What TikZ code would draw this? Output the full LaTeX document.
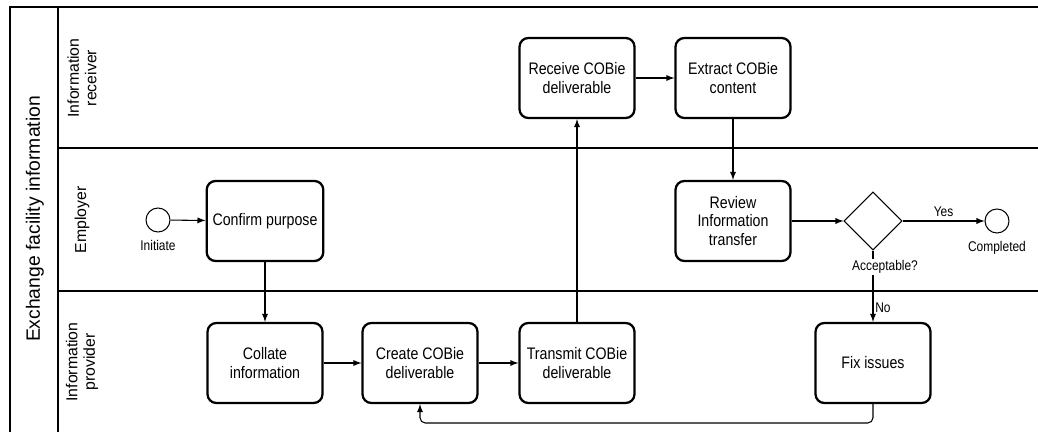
\documentclass[tikz,border=0pt]{standalone}
\usepackage{fontspec}
\setmainfont{Liberation Sans}
\newfontfamily\narrowfont[FakeStretch=0.85]{Liberation Sans}
\usetikzlibrary{arrows}
\usetikzlibrary{calc}
\usetikzlibrary{shapes.geometric}

\begin{document}
\begin{tikzpicture}[x=0.02cm,y=-0.02cm,
    task/.style={draw,line width=1.3pt,rounded corners=5pt,minimum width=2.3cm,
      minimum height=1.6cm,align=center,font=\narrowfont\fontsize{9.5}{10.5}\selectfont},
    event/.style={draw,circle,line width=0.6pt,minimum size=0.48cm,inner sep=0pt},
    gate/.style={draw,diamond,line width=0.6pt,minimum size=1.16cm,inner sep=0pt},
    lbl/.style={font=\narrowfont\fontsize{8}{9}\selectfont,inner sep=1pt},
    lane/.style={line width=1.6pt},
    flow/.style={->,>=latex,line width=0.6pt}]
      \useasboundingbox (0,0) rectangle (1038,432);

      % pool and lanes
      \draw[lane] (10,432) -- (10,7) -- (1038,7);
      \draw[lane] (58,7) -- (58,432);
      \draw[lane] (58,148) -- (1038,148);
      \draw[lane] (58,291) -- (1038,291);
      \node[rotate=90,font=\fontsize{11}{13}\selectfont] (pool) at (35,219) {Exchange facility information};
      \node[rotate=90,align=center,font=\fontsize{9}{10}\selectfont] (receiver) at (82,78) {Information\\receiver};
      \node[rotate=90,align=center,font=\fontsize{9}{10}\selectfont] (employer) at (82,220) {Employer};
      \node[rotate=90,align=center,font=\fontsize{9}{10}\selectfont] (provider) at (82,362) {Information\\provider};

      % activities
      \node[event] (init) at (158,220) {};
      \node[lbl,below=3pt] (initlbl) at (init.south) {Initiate};
      \node[task] (confirm) at (265,221) {Confirm purpose};
      \node[task] (collate) at (265,363) {Collate\\information};
      \node[task] (create) at (420,363) {Create COBie\\deliverable};
      \node[task] (transmit) at (577,363) {Transmit COBie\\deliverable};
      \node[task] (receive) at (577,78) {Receive COBie\\deliverable};
      \node[task] (extract) at (733,78) {Extract COBie\\content};
      \node[task] (review) at (733,221) {Review\\Information\\transfer};
      \node[gate] (accept) at (873,221) {};
      \node[event] (done) at (997,221) {};
      \node[lbl,below=3pt] (donelbl) at (done.south) {Completed};
      \node[task] (fix) at (873,363) {Fix issues};
      \coordinate (loop) at (420,423);

      \path[flow] (init) edge (confirm);
      \path[flow] (confirm) edge (collate);
      \path[flow] (collate) edge (create);
      \path[flow] (create) edge (transmit);
      \path[flow] (transmit) edge (receive);
      \path[flow] (receive) edge (extract);
      \path[flow] (extract) edge (review);
      \path[flow] (review) edge (accept);
      \path[flow] (accept) edge node[lbl,above=1pt] {Yes} (done);
      \path[flow] (accept) edge node[lbl,right,pos=0.8] {No} (fix);
      \draw[flow,rounded corners=3pt] (fix.south) |- (loop) -- (create.south);
      \node[lbl,fill=white] (acclbl) at (885,267) {Acceptable?};
\end{tikzpicture}
\end{document}
